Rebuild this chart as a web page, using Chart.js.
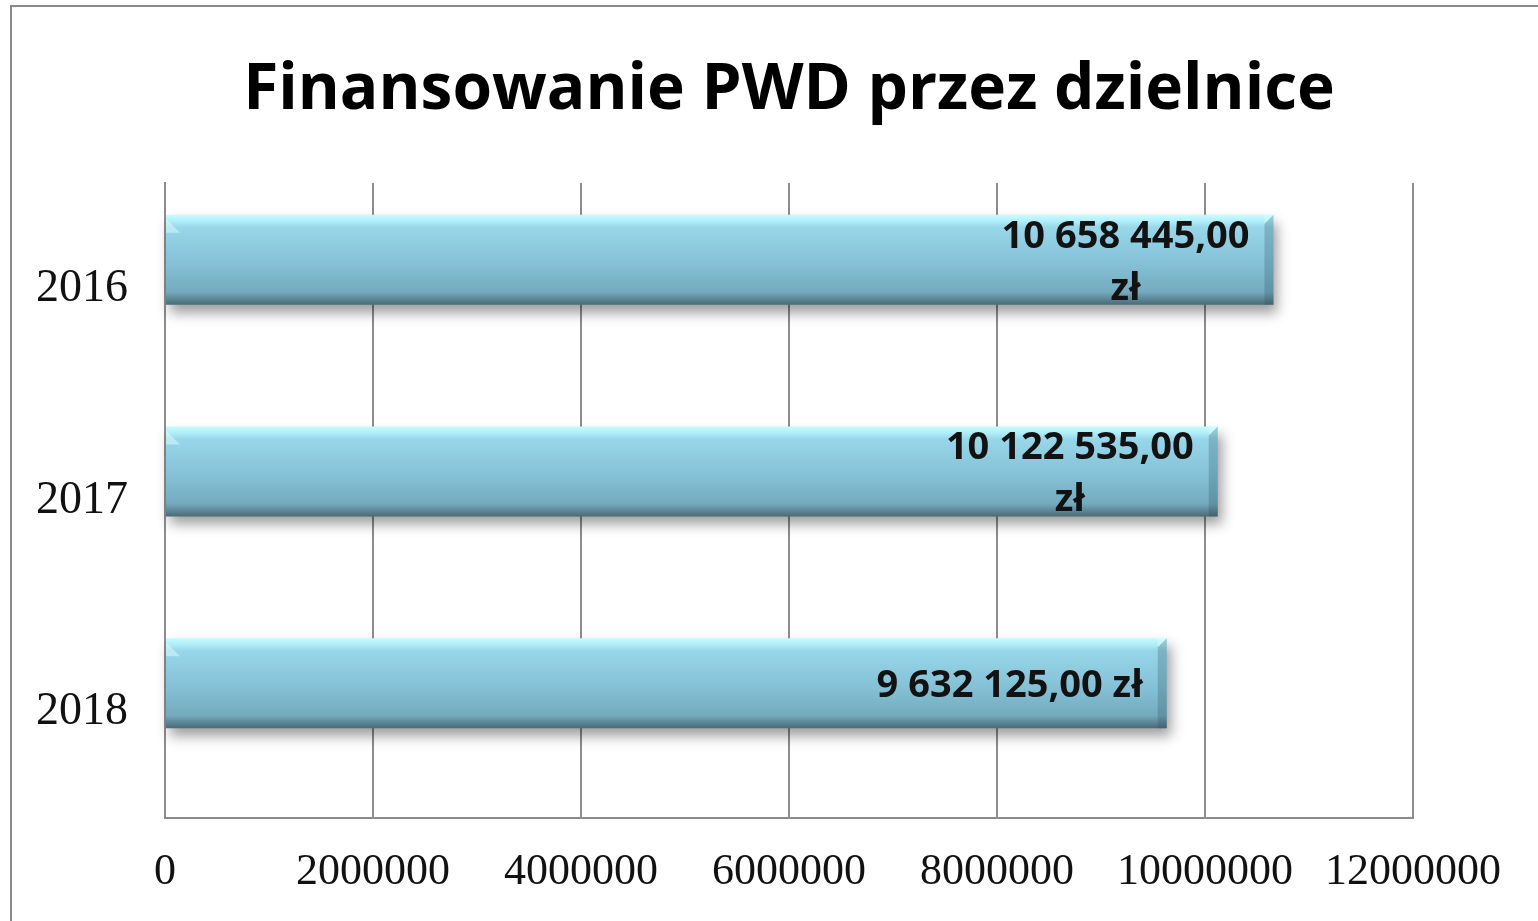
<!DOCTYPE html>
<html lang="pl">
<head>
<meta charset="utf-8">
<title>Finansowanie PWD przez dzielnice</title>
<script src="https://cdn.jsdelivr.net/npm/chart.js@4/dist/chart.umd.min.js"></script>
<style>
    html, body { margin: 0; padding: 0; background: #fff; overflow: hidden; }
    #wrap { position: relative; width: 1538px; height: 921px; }
    #frame {
        position: absolute; left: 10px; top: 5px; width: 1600px; height: 1000px;
        border: 2px solid #8a8a8a; box-sizing: border-box; pointer-events: none;
    }
</style>
</head>
<body>
<div id="wrap">
    <canvas id="pwdChart" width="1538" height="921"></canvas>
    <div id="frame"></div>
</div>
<script>
    'use strict';

    const years = ['2016', '2017', '2018'];
    const amounts = [10658445, 10122535, 9632125];
    const xTicks = [0, 2000000, 4000000, 6000000, 8000000, 10000000, 12000000];

    const BAR_PCT = 0.425;
    const DEPTH = 29; // bars sit a little above the category centre (3D look)

    // 10658445 -> "10 658 445,00 zł"
    function plMoney(v) {
        const s = String(Math.round(v)).replace(/\B(?=(\d{3})+(?!\d))/g, ' ');
        return s + ',00 zł';
    }

    function barGradient(c) {
        const chart = c.chart;
        const y = chart.scales.y;
        if (!chart.chartArea || !y) return '#8cc8da';
        const mid = y.getPixelForValue(c.dataIndex);
        const half = Math.abs(y.getPixelForValue(1) - y.getPixelForValue(0)) * BAR_PCT / 2;
        const g = chart.ctx.createLinearGradient(0, mid - half, 0, mid + half);
        g.addColorStop(0, '#c6fcff');
        g.addColorStop(0.07, '#b0eef9');
        g.addColorStop(0.14, '#98d6ea');
        g.addColorStop(0.55, '#84c1d6');
        g.addColorStop(0.86, '#74aabe');
        g.addColorStop(0.93, '#5e8a9a');
        g.addColorStop(1, '#4a6a76');
        return g;
    }

    const bevelAndLabels = {
        id: 'bevelAndLabels',
        beforeDatasetsDraw(chart) {
            const ctx = chart.ctx;
            ctx.save();
            ctx.translate(0, -DEPTH);
            ctx.shadowColor = 'rgba(0,0,0,0.38)';
            ctx.shadowBlur = 12;
            ctx.shadowOffsetX = 4;
            ctx.shadowOffsetY = 8;
        },
        afterDatasetsDraw(chart) {
            const ctx = chart.ctx;
            ctx.shadowColor = 'rgba(0,0,0,0)';
            const meta = chart.getDatasetMeta(0);
            meta.data.forEach((bar, i) => {
                const top = bar.y - bar.height / 2;
                // right end bevel
                ctx.fillStyle = 'rgba(40,75,90,0.25)';
                ctx.beginPath();
                ctx.moveTo(bar.x - 9, top + 9);
                ctx.lineTo(bar.x, top);
                ctx.lineTo(bar.x, top + bar.height);
                ctx.lineTo(bar.x - 9, top + bar.height);
                ctx.closePath();
                ctx.fill();
                ctx.fillStyle = 'rgba(220,255,255,0.45)';
                ctx.beginPath();
                ctx.moveTo(bar.x - 9, top);
                ctx.lineTo(bar.x, top);
                ctx.lineTo(bar.x - 9, top + 9);
                ctx.closePath();
                ctx.fill();
                // left end bevel
                ctx.fillStyle = 'rgba(220,255,255,0.5)';
                ctx.beginPath();
                ctx.moveTo(bar.base, top + 4);
                ctx.lineTo(bar.base + 14, top + 18);
                ctx.lineTo(bar.base, top + 18);
                ctx.closePath();
                ctx.fill();

                // value label, wrapped like the original when too long
                ctx.font = 'bold 38px "Open Sans", sans-serif';
                ctx.fillStyle = '#121212';
                ctx.textBaseline = 'middle';
                ctx.textAlign = 'center';
                const text = plMoney(amounts[i]);
                let lines = [text];
                if (ctx.measureText(text).width > 276) {
                    const cut = text.lastIndexOf(' ');
                    lines = [text.slice(0, cut), text.slice(cut + 1)];
                }
                const blockW = Math.max(...lines.map(l => ctx.measureText(l).width));
                const cx = bar.x - 24 - blockW / 2;
                const lh = 52;
                const y0 = bar.y + 3 - (lines.length - 1) * lh / 2;
                lines.forEach((l, k) => ctx.fillText(l, cx, y0 + k * lh));
            });
            ctx.restore();
        }
    };

    new Chart(document.getElementById('pwdChart'), {
        type: 'bar',
        data: {
            labels: years,
            datasets: [{
                data: amounts,
                backgroundColor: barGradient,
                borderWidth: 0,
                barPercentage: BAR_PCT,
                categoryPercentage: 1,
                clip: false
            }]
        },
        plugins: [bevelAndLabels],
        options: {
            indexAxis: 'y',
            responsive: false,
            animation: false,
            devicePixelRatio: 1,
            layout: { padding: { left: 0, right: 125, top: 0, bottom: 0 } },
            plugins: {
                legend: { display: false },
                tooltip: { enabled: false },
                title: {
                    display: true,
                    fullSize: false,
                    text: 'Finansowanie PWD przez dzielnice',
                    color: '#000',
                    font: { family: '"Open Sans", sans-serif', size: 64, weight: 'bold', lineHeight: 1.2 },
                    padding: { top: 52, bottom: 54.2 }
                }
            },
            scales: {
                x: {
                    min: 0,
                    max: 12000000,
                    afterBuildTicks: s => { s.ticks = xTicks.map(v => ({ value: v })); },
                    afterFit: s => { s.height = 103; },
                    grid: { color: '#8c8c8c', lineWidth: 2, drawTicks: false },
                    border: { display: true, color: '#8c8c8c', width: 2 },
                    ticks: {
                        padding: 28,
                        color: '#111',
                        maxRotation: 0,
                        autoSkip: false,
                        font: { family: '"Liberation Serif", serif', size: 44 },
                        callback: v => String(v)
                    }
                },
                y: {
                    afterFit: s => { s.width = 165; },
                    grid: { display: false },
                    border: { display: true, color: '#8c8c8c', width: 2 },
                    ticks: {
                        padding: 29,
                        color: '#111',
                        font: { family: '"Liberation Serif", serif', size: 46 }
                    }
                }
            }
        }
    });
</script>
</body>
</html>
